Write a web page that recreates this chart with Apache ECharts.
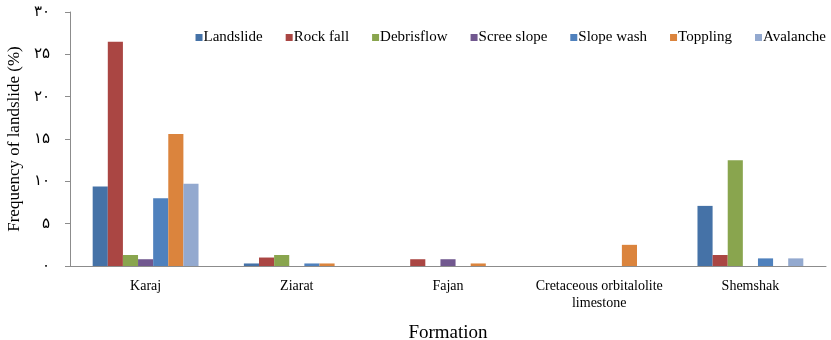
<!DOCTYPE html>
<html>
<head>
<meta charset="utf-8">
<script src="https://cdn.jsdelivr.net/npm/echarts@6/dist/echarts.min.js"></script>
<style>
  html, body { margin: 0; padding: 0; background: #fff; }
  #chart { width: 831px; height: 340px; }
</style>
</head>
<body>
<div id="chart"></div>
<script>
// Landslide types per geological formation (%)
const formations = ['Karaj', 'Ziarat', 'Fajan', 'Cretaceous orbitalolite\nlimestone', 'Shemshak'];
const typeNames = ['Landslide', 'Rock fall', 'Debrisflow', 'Scree slope', 'Slope wash', 'Toppling', 'Avalanche'];
const landslide = [9.4, 0.3, 0, 0, 7.1];
const rockFall = [26.5, 1.0, 0.8, 0, 1.3];
const debrisFlow = [1.3, 1.3, 0, 0, 12.5];
const screeSlope = [0.8, 0, 0.8, 0, 0];
const slopeWash = [8.0, 0.3, 0, 0, 0.9];
const toppling = [15.6, 0.3, 0.3, 2.5, 0];
const avalanche = [9.7, 0, 0, 0, 0.9];
const yTickLabels = ['۰', '۵', '۱۰', '۱۵', '۲۰', '۲۵', '۳۰'];

const seriesValues = [landslide, rockFall, debrisFlow, screeSlope, slopeWash, toppling, avalanche];
const colors = ['#4572A7', '#AA4643', '#89A54E', '#71588F', '#4F81BD', '#DB843D', '#93A9CF'];
const serif = '"Liberation Serif", "DejaVu Serif", serif';

const chart = echarts.init(document.getElementById('chart'), null, { renderer: 'canvas' });
chart.setOption({
  animation: false,
  color: colors,
  textStyle: { fontFamily: serif, color: '#000' },
  grid: { left: 70, right: 5, top: 12, bottom: 74, containLabel: false, outerBoundsMode: 'none' },
  legend: {
    data: typeNames,
    right: 0,
    top: 25,
    icon: 'rect',
    itemWidth: 7,
    itemHeight: 7,
    itemGap: 23,
    textStyle: { fontFamily: serif, fontSize: 15, color: '#000', padding: [0, 0, 0, -4] }
  },
  xAxis: {
    type: 'category',
    data: formations,
    name: 'Formation',
    nameLocation: 'middle',
    nameGap: 58,
    nameTextStyle: { fontFamily: serif, fontSize: 19, color: '#000' },
    axisLine: { lineStyle: { color: '#8c8c8c', width: 1 } },
    axisTick: { show: false },
    axisLabel: { fontFamily: serif, fontSize: 14, color: '#000', margin: 12, lineHeight: 17, interval: 0 }
  },
  yAxis: {
    type: 'value',
    min: 0,
    max: 30,
    interval: 5,
    name: 'Frequency of landslide (%)',
    nameLocation: 'middle',
    nameGap: 45,
    nameTextStyle: { fontFamily: serif, fontSize: 17, color: '#000' },
    axisLine: { show: true, lineStyle: { color: '#8c8c8c', width: 1 } },
    axisTick: { show: true, length: 5, lineStyle: { color: '#8c8c8c' } },
    splitLine: { show: false },
    axisLabel: {
      fontFamily: serif, fontSize: 15, color: '#000', margin: 20,
      formatter: function (v) { return yTickLabels[Math.round(v / 5)]; }
    }
  },
  series: typeNames.map(function (name, i) {
    return {
      name: name,
      type: 'bar',
      data: seriesValues[i],
      barGap: '0%',
      barCategoryGap: '30%',
      itemStyle: { color: colors[i] }
    };
  })
});
</script>
</body>
</html>
